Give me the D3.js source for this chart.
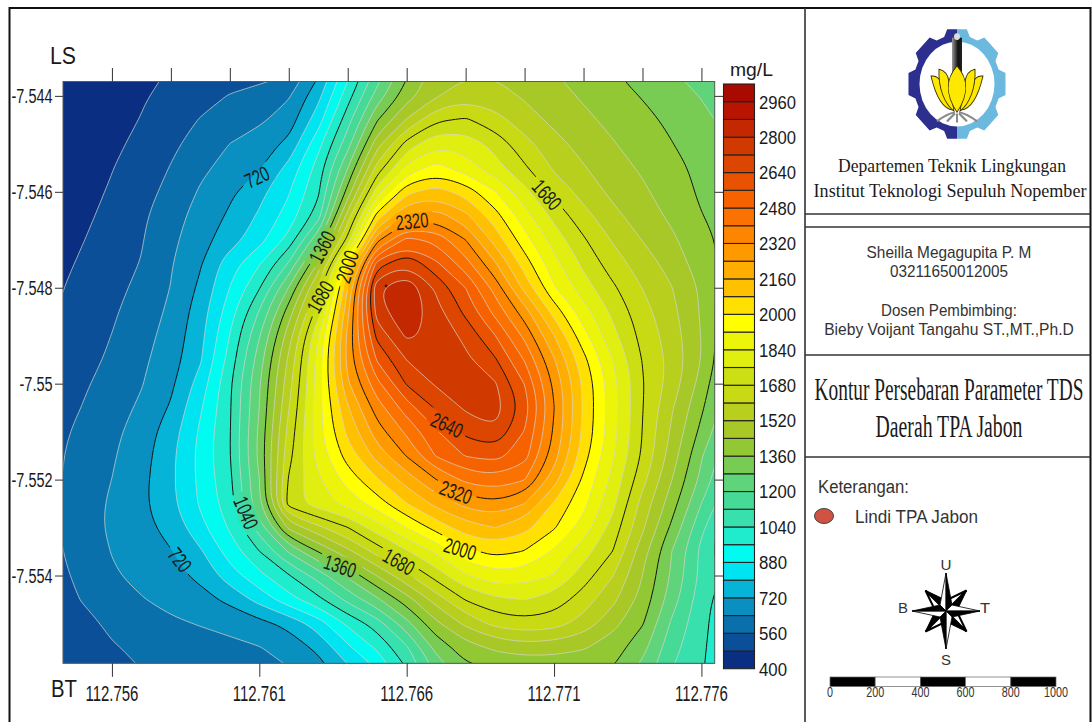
<!DOCTYPE html>
<html>
<head>
<meta charset="utf-8">
<title>Kontur TDS</title>
<script src="https://cdn.jsdelivr.net/npm/d3@7"></script>
<style>
body { margin: 0; background: #fff; }
svg { display: block; position: absolute; left: 0; top: 0; }
text { font-family: "Liberation Sans", Arial, sans-serif; fill: #1a1a1a; }
.serif { font-family: "Liberation Serif", "Times New Roman", serif; }
</style>
</head>
<body>
<svg id="map" width="1092" height="722"></svg>
<script>
// grid nodes
var lons = [112.754,112.755,112.756,112.757,112.758,112.759,112.760,112.761,112.762,112.763,112.764,112.765,112.766,112.767,112.768,112.769,112.770,112.771,112.772,112.773,112.774,112.775,112.776,112.777];
var lats = [-7.5435,-7.544,-7.5445,-7.545,-7.5455,-7.546,-7.5465,-7.547,-7.5475,-7.548,-7.5485,-7.549,-7.5495,-7.55,-7.5505,-7.551,-7.5515,-7.552,-7.5525,-7.553,-7.5535,-7.554,-7.5545,-7.555,-7.5555,-7.556];

// TDS in mg/L, one row per latitude
var tds = [
[395,415,445,465,480,500,522,515,525,686,928,1137,1345,1490,1498,1511,1476,1439,1394,1361,1321,1277,1249,1213],
[405,425,450,472,500,533,565,596,627,768,1005,1240,1405,1498,1575,1545,1510,1465,1432,1395,1355,1325,1276,1230],
[410,430,455,481,520,566,600,622,660,835,1085,1365,1520,1683,1700,1630,1550,1498,1455,1420,1382,1345,1300,1250],
[415,435,465,495,545,590,645,680,720,935,1150,1500,1730,1845,1825,1740,1625,1545,1490,1445,1400,1362,1320,1280],
[420,445,477,515,562,628,665,700,825,985,1270,1640,1870,1965,1860,1785,1690,1580,1525,1470,1430,1385,1340,1300],
[425,455,487,530,580,650,705,775,870,1000,1380,1815,2085,2130,2060,1930,1785,1650,1565,1495,1455,1400,1345,1300],
[435,468,495,545,610,670,730,810,905,1020,1560,2065,2270,2290,2185,2035,1870,1735,1625,1540,1475,1425,1360,1320],
[445,478,505,552,620,690,755,835,965,1250,1665,2340,2535,2475,2330,2120,1945,1805,1690,1590,1515,1455,1380,1330],
[455,488,518,560,635,705,860,950,1110,1425,2040,2665,2755,2570,2435,2255,2040,1860,1740,1632,1565,1490,1395,1320],
[462,505,535,578,638,730,880,1020,1280,1610,2150,2900,2910,2710,2575,2380,2120,1910,1790,1695,1595,1525,1440,1270],
[470,515,548,595,650,755,920,1120,1400,1700,2210,2825,2900,2750,2620,2450,2290,2040,1870,1740,1630,1545,1435,1260],
[475,525,560,610,665,765,960,1190,1480,1840,2265,2695,2840,2790,2710,2570,2385,2165,1940,1775,1650,1565,1445,1250],
[490,530,572,625,675,775,985,1240,1535,1875,2280,2590,2730,2770,2745,2660,2480,2250,2025,1840,1670,1580,1450,1245],
[505,550,590,632,695,830,1025,1270,1565,1880,2250,2455,2670,2740,2785,2750,2570,2305,2065,1870,1680,1575,1415,1200],
[515,562,605,650,720,870,1020,1270,1600,1890,2150,2365,2520,2660,2740,2790,2635,2320,2060,1870,1680,1525,1375,1200],
[530,580,620,672,760,895,1020,1290,1640,1895,2105,2290,2415,2545,2675,2745,2560,2310,2060,1870,1675,1505,1340,1170],
[535,595,630,680,780,905,1025,1300,1665,1885,2035,2200,2325,2515,2575,2600,2545,2280,2030,1850,1675,1485,1280,1100],
[535,605,638,695,780,900,1005,1250,1725,1815,1955,2070,2195,2315,2430,2465,2430,2200,1975,1815,1630,1440,1265,1070],
[540,610,650,700,780,895,990,1260,1810,1830,1880,1960,2085,2190,2265,2320,2250,2050,1950,1790,1560,1400,1195,1025],
[540,610,655,695,740,860,965,1140,1480,1580,1670,1810,1925,2035,2130,2170,2105,2020,1890,1730,1540,1345,1135,950],
[540,590,645,680,710,780,920,1030,1200,1365,1500,1635,1750,1845,1985,2035,2005,1905,1790,1695,1465,1270,1090,900],
[530,578,635,665,695,730,850,940,1020,1145,1290,1445,1585,1720,1840,1905,1885,1850,1720,1605,1440,1270,1095,1020],
[510,570,600,635,670,690,730,830,945,1020,1145,1265,1400,1555,1695,1745,1765,1730,1640,1545,1420,1240,1065,960],
[500,530,580,605,625,645,660,685,722,825,975,1060,1255,1425,1540,1640,1668,1650,1580,1460,1380,1175,1060,960],
[495,515,555,575,590,600,615,630,665,730,865,975,1090,1320,1400,1450,1480,1470,1445,1400,1320,1140,1055,960],
[490,510,530,558,574,592,607,623,625,664,765,856,1020,1208,1342,1346,1345,1352,1365,1360,1240,1108,1047,960]
];

// one colour per band, lowest first
var bandLevels = [400,480,560,640,720,800,880,960,1040,1120,1200,1280,1360,1440,1520,1600,1680,1760,1840,1920,2000,2080,2160,2240,2320,2400,2480,2560,2640,2720,2800,2880,2960,3040];
var bandColors = ["#0a2f82","#0a4f98","#0a70ac","#0a90c0","#05b4d6","#00e4f2","#00fbf0","#1eeccc","#38e0ae","#45da96","#60d47a","#78cc54","#92c834","#a8c828","#b8cf1e","#c8da14","#ccdf14","#e0ee10","#ecf40a","#ffff00","#ffe000","#ffc000","#ffad00","#ff9900","#fe8500","#fc7200","#f76200","#e85200","#dd4600","#d03a00","#c42800","#b81400","#a80a00"];
var blackLevels = [720,1040,1360,1680,2000,2320,2640];

var legendTicks = [400,560,720,880,1040,1200,1360,1520,1680,1840,2000,2160,2320,2480,2640,2800,2960];
var lonTicks = [112.756,112.761,112.766,112.771,112.776];
var lonMinorTicks = [112.756,112.758,112.760,112.762,112.764,112.766,112.768,112.770,112.772,112.774,112.776];
var latTicks = [-7.544,-7.546,-7.548,-7.55,-7.552,-7.554];

var labelValues = [720,1360,1680,2000,2320,1680,2640,2320,2000,1680,1360,1040,720];
var labelLons = [112.76092,112.76313,112.76306,112.76398,112.76618,112.77076,112.76737,112.76767,112.76781,112.76574,112.76374,112.76055,112.75831];
var labelLats = [-7.54569,-7.54715,-7.54819,-7.54756,-7.54661,-7.54606,-7.55086,-7.55226,-7.55344,-7.55371,-7.55380,-7.55269,-7.55367];
var labelAngles = [-25,-62,-60,-72,-6,48,25,20,17,30,18,67,52];

var peakPoint = [112.7653,-7.54796];

var scaleValues = [0,200,400,600,800,1000];
var scaleFills = ["#000","#fff","#000","#fff","#000"];

var svg = d3.select("#map");
var defs = svg.append("defs");

var x = d3.scaleLinear().domain([112.75434,112.77645]).range([63,714.7]);
var y = d3.scaleLinear().domain([-7.5437,-7.55583]).range([81.5,663.3]);
var legendY = d3.scaleLinear().domain([400,3040]).range([668.7,84]);
var scaleX = d3.scaleLinear().domain([0,1000]).range([830,1056]);

// text helper, the source picture is squeezed so widths are set by hand
function label(px, py, str, size, width, anchor, cls) {
  var t = svg.append("text").attr("font-size", size).text(str);
  if (anchor) t.attr("text-anchor", anchor);
  if (cls) t.attr("class", cls);
  var sx = width ? width / t.node().getComputedTextLength() : 1;
  t.attr("transform", "translate(" + px + "," + py + ") scale(" + sx + ",1)");
  return t;
}

// page frame
svg.append("rect").attr("x",9.5).attr("y",8).attr("width",1081).attr("height",730).attr("fill","none").attr("stroke","#111").attr("stroke-width",2);
svg.append("line").attr("x1",805).attr("x2",805).attr("y1",8).attr("y2",722).attr("stroke","#333").attr("stroke-width",1.6);
[214,227,355,457].forEach(function(v) {
  svg.append("line").attr("x1",805).attr("x2",1090).attr("y1",v).attr("y2",v).attr("stroke","#333").attr("stroke-width",1.3);
});

// contours, edge values repeated once so the ring closes away from the frame
var padded = [tds[0]].concat(tds, [tds[tds.length-1]]).map(function(r) {
  return [r[0]].concat(r, [r[r.length-1]]);
});
var nx = padded[0].length, ny = padded.length;
var surface = {data: d3.merge(padded), width: nx, height: ny};
d3.blur2(surface, 0.04);   // only takes the reading noise out of the lines
var gridX = d3.scaleLinear().domain([0,lons.length-1]).range([x(lons[0]),x(lons[lons.length-1])]);
var gridY = d3.scaleLinear().domain([0,lats.length-1]).range([y(lats[0]),y(lats[lats.length-1])]);
var contourLevels = bandLevels.slice(1,-1);
var shapes = d3.contours().size([nx,ny]).smooth(true).thresholds(contourLevels)(Array.from(surface.data));

var ringLine = d3.line()
  .x(function(p) { return gridX(p[0]-1.5); })
  .y(function(p) { return gridY(p[1]-1.5); })
  .curve(d3.curveBasisClosed);

function shapePath(shape) {
  return shape.coordinates.map(function(poly) {
    return poly.map(function(ring) { return ringLine(ring.slice(0,-1)); }).join("");
  }).join("");
}

defs.append("clipPath").attr("id","plotClip").append("rect")
  .attr("x",x.range()[0]).attr("y",y.range()[0])
  .attr("width",x.range()[1]-x.range()[0]).attr("height",y.range()[1]-y.range()[0]);

// holes in the lines where the contour labels sit
var mask = defs.append("mask").attr("id","labelMask").attr("maskUnits","userSpaceOnUse")
  .attr("x",0).attr("y",0).attr("width",1092).attr("height",722);
mask.append("rect").attr("width",1092).attr("height",722).attr("fill","#fff");
labelValues.forEach(function(v,i) {
  var w = v < 1000 ? 32 : 42;
  mask.append("rect").attr("x",-w/2).attr("y",-10).attr("width",w).attr("height",20).attr("fill","#000")
    .attr("transform","translate("+x(labelLons[i])+","+y(labelLats[i])+") rotate("+labelAngles[i]+")");
});

var plot = svg.append("g").attr("clip-path","url(#plotClip)");
plot.append("rect").attr("x",60).attr("y",78).attr("width",660).attr("height",590).attr("fill",bandColors[0]);
plot.selectAll("path.band").data(shapes).enter().append("path")
  .attr("class","band")
  .attr("d",shapePath)
  .attr("fill-rule","evenodd")
  .attr("fill",function(d,i) { return bandColors[i+1]; });

var lineGroup = plot.append("g").attr("mask","url(#labelMask)");
lineGroup.selectAll("path").data(shapes).enter().append("path")
  .attr("d",shapePath)
  .attr("fill","none")
  .attr("stroke",function(d) { return blackLevels.indexOf(d.value) >= 0 ? "#141414" : "#d6d6d0"; })
  .attr("stroke-opacity",function(d) { return blackLevels.indexOf(d.value) >= 0 ? 1 : 0.7; })
  .attr("stroke-width",1);

plot.append("circle").attr("cx",x(peakPoint[0])).attr("cy",y(peakPoint[1])).attr("r",1.4).attr("fill","#4a0d00");

labelValues.forEach(function(v,i) {
  svg.append("text").attr("font-size",21).attr("text-anchor","middle").attr("dy","0.36em")
    .attr("fill","#111")
    .attr("transform","translate("+x(labelLons[i])+","+y(labelLats[i])+") rotate("+labelAngles[i]+") scale(0.7,1)")
    .text(v);
});

// frame and ticks of the map
svg.append("rect").attr("x",63).attr("y",81.5).attr("width",651.7).attr("height",581.8)
  .attr("fill","none").attr("stroke","#5a5a5a").attr("stroke-width",1);

function axisStyle(g) {
  g.select(".domain").remove();
  g.selectAll("line").attr("stroke","#333");
}
svg.append("g").attr("transform","translate(0,81.5)")
  .call(d3.axisTop(x).tickValues(lonMinorTicks).tickSize(13.5).tickFormat("")).call(axisStyle);
svg.append("g").attr("transform","translate(0,663.3)")
  .call(d3.axisBottom(x).tickValues(lonTicks).tickSize(13.5).tickFormat("")).call(axisStyle);
svg.append("g").attr("transform","translate(63,0)")
  .call(d3.axisLeft(y).tickValues(latTicks).tickSize(8).tickFormat("")).call(axisStyle);
svg.append("g").attr("transform","translate(714.7,0)")
  .call(d3.axisRight(y).tickValues(latTicks).tickSize(8.5).tickFormat("")).call(axisStyle);

lonTicks.forEach(function(v) { label(x(v),701,d3.format(".3f")(v),22,53,"middle"); });
latTicks.forEach(function(v) {
  var s = String(v);
  label(52.5,y(v)+7,s,21,s.length == 6 ? 41 : 33,"end");
});
label(50,64,"LS",24,26);
label(51,697,"BT",24,26);

// colour legend
svg.selectAll("rect.key").data(bandColors).enter().append("rect")
  .attr("class","key")
  .attr("x",723.5).attr("width",31)
  .attr("y",function(d,i) { return legendY(bandLevels[i+1]); })
  .attr("height",function(d,i) { return legendY(bandLevels[i])-legendY(bandLevels[i+1]); })
  .attr("fill",function(d) { return d; })
  .attr("stroke","#222").attr("stroke-width",1.1);
legendTicks.forEach(function(v) {
  label(759,legendY(v)+6.8,v,19,v < 1000 ? 28 : 37);
});
label(730,76,"mg/L",19,43);

// title block
label(952,172,"Departemen Teknik Lingkungan",19,228,"middle","serif");
label(950,197,"Institut Teknologi Sepuluh Nopember",19,273,"middle","serif");
label(949,258,"Sheilla Megagupita P. M",16,165,"middle").style("fill","#333");
label(949,277,"03211650012005",16,118,"middle").style("fill","#333");
label(949,316,"Dosen Pembimbing:",16,136,"middle").style("fill","#333");
label(949,335,"Bieby Voijant Tangahu ST.,MT.,Ph.D",16,250,"middle").style("fill","#333");
label(949,400,"Kontur Persebaran Parameter TDS",31,269,"middle","serif");
label(949,437,"Daerah TPA Jabon",31,147,"middle","serif");
label(818,493,"Keterangan:",18,91).style("fill","#333");
label(855,523,"Lindi TPA Jabon",18,123).style("fill","#333");
svg.append("ellipse").attr("cx",824).attr("cy",516).attr("rx",9.5).attr("ry",7.5)
  .attr("fill","#cf5340").attr("stroke","#444").attr("stroke-width",1);

// logo
var logo = svg.append("g").attr("transform","translate(957,84) scale(1,1.13)");
defs.append("clipPath").attr("id","logoLeft").append("rect").attr("x",-60).attr("y",-60).attr("width",60).attr("height",120);
defs.append("clipPath").attr("id","logoRight").append("rect").attr("x",0).attr("y",-60).attr("width",60).attr("height",120);
var gearPts = [];
d3.range(8).forEach(function(i) {
  var a = i*Math.PI/4 - Math.PI/2;
  [[-0.3,43.5],[-0.2,49.5],[0.2,49.5],[0.3,43.5]].forEach(function(p) {
    gearPts.push([p[1]*Math.cos(a+p[0]),p[1]*Math.sin(a+p[0])]);
  });
});
var gearLine = d3.line().curve(d3.curveLinearClosed);
logo.append("path").attr("d",gearLine(gearPts)).attr("fill","#2d2f8e").attr("clip-path","url(#logoLeft)");
logo.append("path").attr("d",gearLine(gearPts)).attr("fill","#6cb9df").attr("clip-path","url(#logoRight)");
logo.append("circle").attr("r",37.5).attr("fill","#fff");
var torch = defs.append("linearGradient").attr("id","torch");
torch.append("stop").attr("offset",0).attr("stop-color","#999");
torch.append("stop").attr("offset",0.6).attr("stop-color","#111");
torch.append("stop").attr("offset",1).attr("stop-color","#222");
logo.append("rect").attr("x",-5).attr("y",-41).attr("width",10).attr("height",36).attr("fill","url(#torch)");
logo.append("rect").attr("x",-3).attr("y",-45).attr("width",6).attr("height",6).attr("rx",3).attr("fill","#ddd");
var petals = [
  "M-26,-7 C-20,-8 -17,-4 -14,1 C-12,10 -8,18 -4,23 C-16,22 -22,8 -26,-7Z",
  "M26,-7 C20,-8 17,-4 14,1 C12,10 8,18 4,23 C16,22 22,8 26,-7Z",
  "M-18,-13 C-12,-12 -9,-8 -8,-2 L-3,24 C-12,18 -19,4 -18,-13Z",
  "M18,-13 C12,-12 9,-8 8,-2 L3,24 C12,18 19,4 18,-13Z",
  "M0,-16 C10,-6 13,8 0,25 C-13,8 -10,-6 0,-16Z"
];
logo.selectAll("path.petal").data(petals).enter().append("path")
  .attr("class","petal").attr("d",function(d) { return d; })
  .attr("fill","#ffe800").attr("stroke","#3a3400").attr("stroke-width",0.9);
["M-2,25 C-8,26 -14,29 -20,33","M2,25 C8,26 14,29 20,33","M-2,26 L-10,33","M2,26 L10,33","M0,26 L0,34"].forEach(function(d) {
  logo.append("path").attr("d",d).attr("fill","none").attr("stroke","#8a8a8a").attr("stroke-width",2);
});

// compass
var rose = svg.append("g").attr("transform","translate(946,611)");
[45,135,225,315].forEach(function(a) {
  var g = rose.append("g").attr("transform","rotate("+a+")");
  g.append("path").attr("d","M0,-29 L-8,-6 L0,0Z").attr("fill","#fff").attr("stroke","#000").attr("stroke-width",2);
  g.append("path").attr("d","M0,-29 L8,-6 L0,0Z").attr("fill","#000").attr("stroke","#000").attr("stroke-width",1);
});
[[0,38],[90,34],[180,38],[270,34]].forEach(function(a) {
  var g = rose.append("g").attr("transform","rotate("+a[0]+")");
  g.append("path").attr("d","M0,"+(-a[1])+" L-6,-6 L0,0Z").attr("fill","#fff").attr("stroke","#000").attr("stroke-width",0.8);
  g.append("path").attr("d","M0,"+(-a[1])+" L6,-6 L0,0Z").attr("fill","#000").attr("stroke","#000").attr("stroke-width",0.8);
});
label(946,570,"U",15,11,"middle").style("fill","#333");
label(946,665,"S",15,10,"middle").style("fill","#333");
label(903,613,"B",15,10,"middle").style("fill","#333");
label(985,613,"T",15,10,"middle").style("fill","#333");

// scale bar
scaleFills.forEach(function(c,i) {
  svg.append("rect").attr("x",scaleX(scaleValues[i])).attr("width",scaleX(scaleValues[i+1])-scaleX(scaleValues[i]))
    .attr("y",677).attr("height",9.5).attr("fill",c).attr("stroke","#666").attr("stroke-width",0.7);
});
scaleValues.forEach(function(v) {
  label(scaleX(v),697,v,14,v == 0 ? 6 : (v == 1000 ? 24 : 18),"middle").style("fill","#333");
});
</script>
</body>
</html>
